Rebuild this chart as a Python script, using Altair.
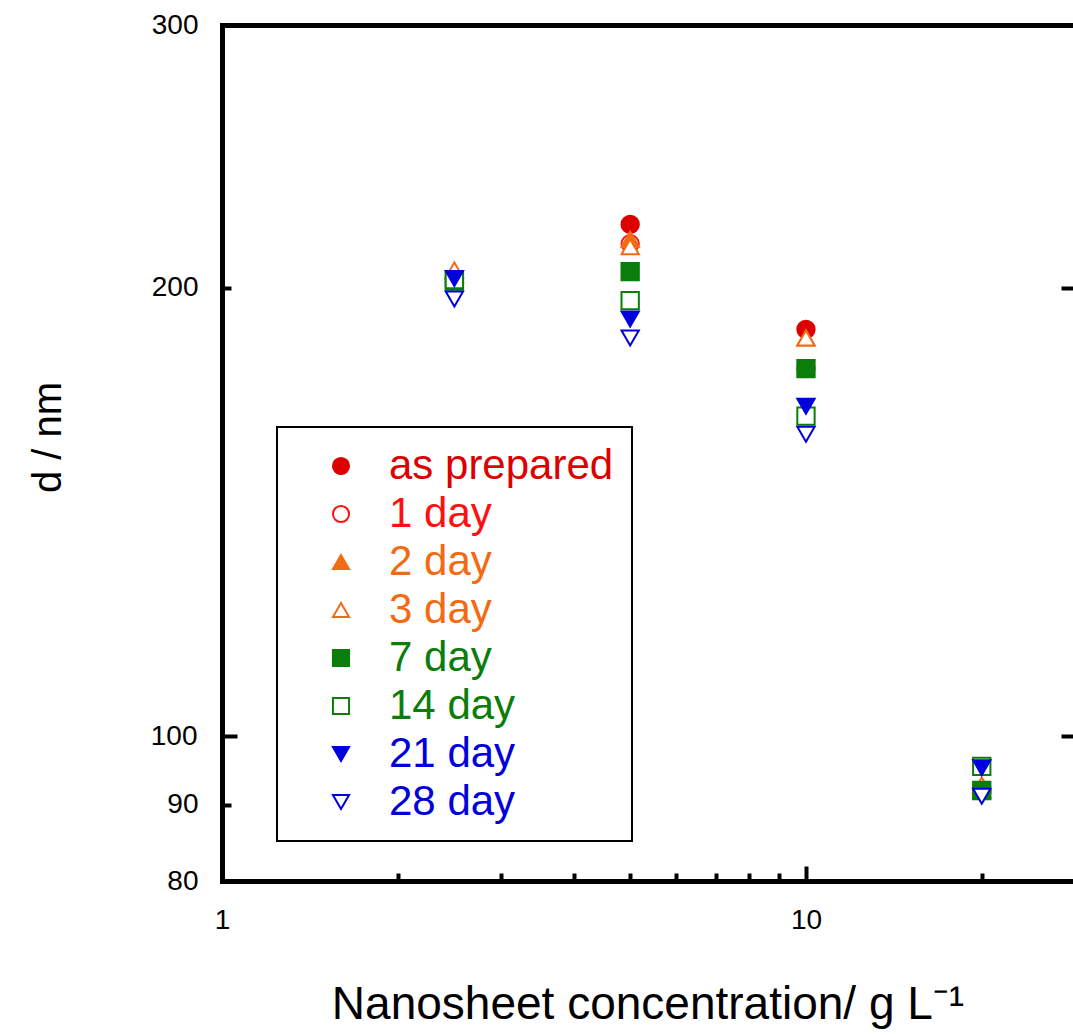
import altair as alt
import pandas as pd

# ---------------- data ----------------
series = ["as prepared", "1 day", "2 day", "3 day", "7 day", "14 day", "21 day", "28 day"]
conc = [2.5, 5, 10, 20]

d_as_prepared = [202.5, 220.5, 187.5, 92.0]
d_1day = [202.5, 214.0, 176.5, 92.0]
d_2day = [204.0, 215.5, 185.0, 92.0]
d_3day = [205.5, 213.0, 185.0, 92.8]
d_7day = [202.0, 205.0, 176.5, 92.0]
d_14day = [202.5, 196.0, 164.0, 95.5]
d_21day = [202.8, 190.5, 166.5, 95.3]
d_28day = [196.5, 185.0, 159.5, 91.2]
values = [d_as_prepared, d_1day, d_2day, d_3day, d_7day, d_14day, d_21day, d_28day]

stroke_colors = ["#dd0000", "#ff1010", "#f26b12", "#f26b12", "#0a7d0a", "#0a7d0a", "#0000dd", "#0000dd"]
fill_colors = ["#dd0000", "#ffffff", "#f26b12", "#ffffff", "#0a7d0a", "#ffffff", "#0000dd", "#ffffff"]
label_colors = ["#dd0000", "#ff1010", "#f26b12", "#f26b12", "#0a7d0a", "#0a7d0a", "#0000dd", "#0000dd"]
shapes = ["circle", "circle", "triangle-up", "triangle-up", "square", "square", "triangle-down", "triangle-down"]

x_ticks = [1, 2, 3, 4, 5, 6, 7, 8, 9, 10, 20]
x_labelled = [1, 10]
y_ticks = [80, 90, 100, 200, 300]
right_ticks = [100, 200]

rows = []
for s, vals in zip(series, values):
    for c, v in zip(conc, vals):
        rows.append({"series": s, "conc": c, "d": v})
df = pd.DataFrame(rows)

FONT = "Liberation Sans"

label_color_expr = "[{}][indexof([{}], datum.value)]".format(
    ",".join("'%s'" % c for c in label_colors),
    ",".join("'%s'" % s for s in series),
)

legend = alt.Legend(
    orient="none",
    legendX=55,
    legendY=402,
    title=None,
    labelFont=FONT,
    labelFontSize=42,
    labelColor=alt.ExprRef(expr=label_color_expr),
    labelLimit=500,
    symbolSize=260,
    symbolStrokeWidth=2,
    symbolOffset=25,
    labelOffset=27,
    padding=18,
    rowPadding=6,
    strokeColor="black",
)

xscale = alt.Scale(type="log", domain=[1, 28.66], nice=False)
yscale = alt.Scale(type="log", domain=[80, 300], nice=False)

x_label_expr = "indexof([{}], datum.value) >= 0 ? format(datum.value, 'd') : ''".format(
    ",".join(str(v) for v in x_labelled)
)

points = alt.Chart(df).mark_point(opacity=1, strokeWidth=2, size=300).encode(
    x=alt.X(
        "conc:Q",
        scale=xscale,
        axis=alt.Axis(
            orient="bottom",
            values=x_ticks,
            labelExpr=x_label_expr,
            labelOverlap=False,
            labelFlush=False,
            labelFont=FONT,
            labelFontSize=28,
            labelColor="black",
            labelPadding=alt.ExprRef(expr="datum.value == 10 ? 40 : 33"),
            tickSize=alt.ExprRef(expr="datum.value == 10 ? -15 : -8"),
            tickWidth=4,
            tickColor="black",
            domainWidth=5,
            domainColor="black",
            domainCap="square",
            grid=False,
            title="Nanosheet concentration/ g L\u207b\u00b9",
            titleFont=FONT,
            titleFontSize=46,
            titleFontWeight="normal",
            titleColor="black",
            titleBaseline="alphabetic",
            titleY=137,
        ),
    ),
    y=alt.Y(
        "d:Q",
        scale=yscale,
        axis=alt.Axis(
            orient="left",
            values=y_ticks,
            format="d",
            labelOverlap=False,
            labelFlush=False,
            labelFont=FONT,
            labelFontSize=28,
            labelColor="black",
            labelPadding=alt.ExprRef(expr="datum.value == 100 ? 40 : 33"),
            tickSize=alt.ExprRef(expr="datum.value == 100 ? -15 : -9"),
            tickWidth=4,
            tickColor="black",
            domainWidth=5,
            domainColor="black",
            domainCap="square",
            grid=False,
            title="d / nm",
            titleFont=FONT,
            titleFontSize=40,
            titleFontWeight="normal",
            titleColor="black",
            titleAngle=270,
            titleAlign="center",
            titleBaseline="alphabetic",
            titleX=-162,
            titleY=412,
        ),
    ),
    stroke=alt.Stroke("series:N", scale=alt.Scale(domain=series, range=stroke_colors), legend=legend),
    fill=alt.Fill("series:N", scale=alt.Scale(domain=series, range=fill_colors), legend=legend),
    shape=alt.Shape("series:N", scale=alt.Scale(domain=series, range=shapes), legend=legend),
)

frame = alt.Chart(df).mark_point(opacity=0).encode(
    x=alt.X(
        "conc:Q",
        scale=xscale,
        axis=alt.Axis(
            orient="top",
            labels=False,
            ticks=False,
            domainWidth=5,
            domainColor="black",
            domainCap="square",
            grid=False,
            title=None,
        ),
    ),
    y=alt.Y(
        "d:Q",
        scale=yscale,
        axis=alt.Axis(
            orient="right",
            values=right_ticks,
            labels=False,
            domain=False,
            tickSize=alt.ExprRef(expr="-12"),
            tickWidth=4,
            tickColor="black",
            grid=False,
            title=None,
        ),
    ),
)

chart = (
    alt.layer(points, frame)
    .resolve_axis(x="independent", y="independent")
    .properties(
        width=851,
        height=856,
        autosize=alt.AutoSizeParams(type="none"),
        padding={"left": 222, "top": 25, "right": 0, "bottom": 154},
        background="white",
    )
    .configure_view(strokeOpacity=0)
    .configure_legend(strokeWidth=2)
)

chart.save("out.html", embed_options={"renderer": "svg", "actions": False})
